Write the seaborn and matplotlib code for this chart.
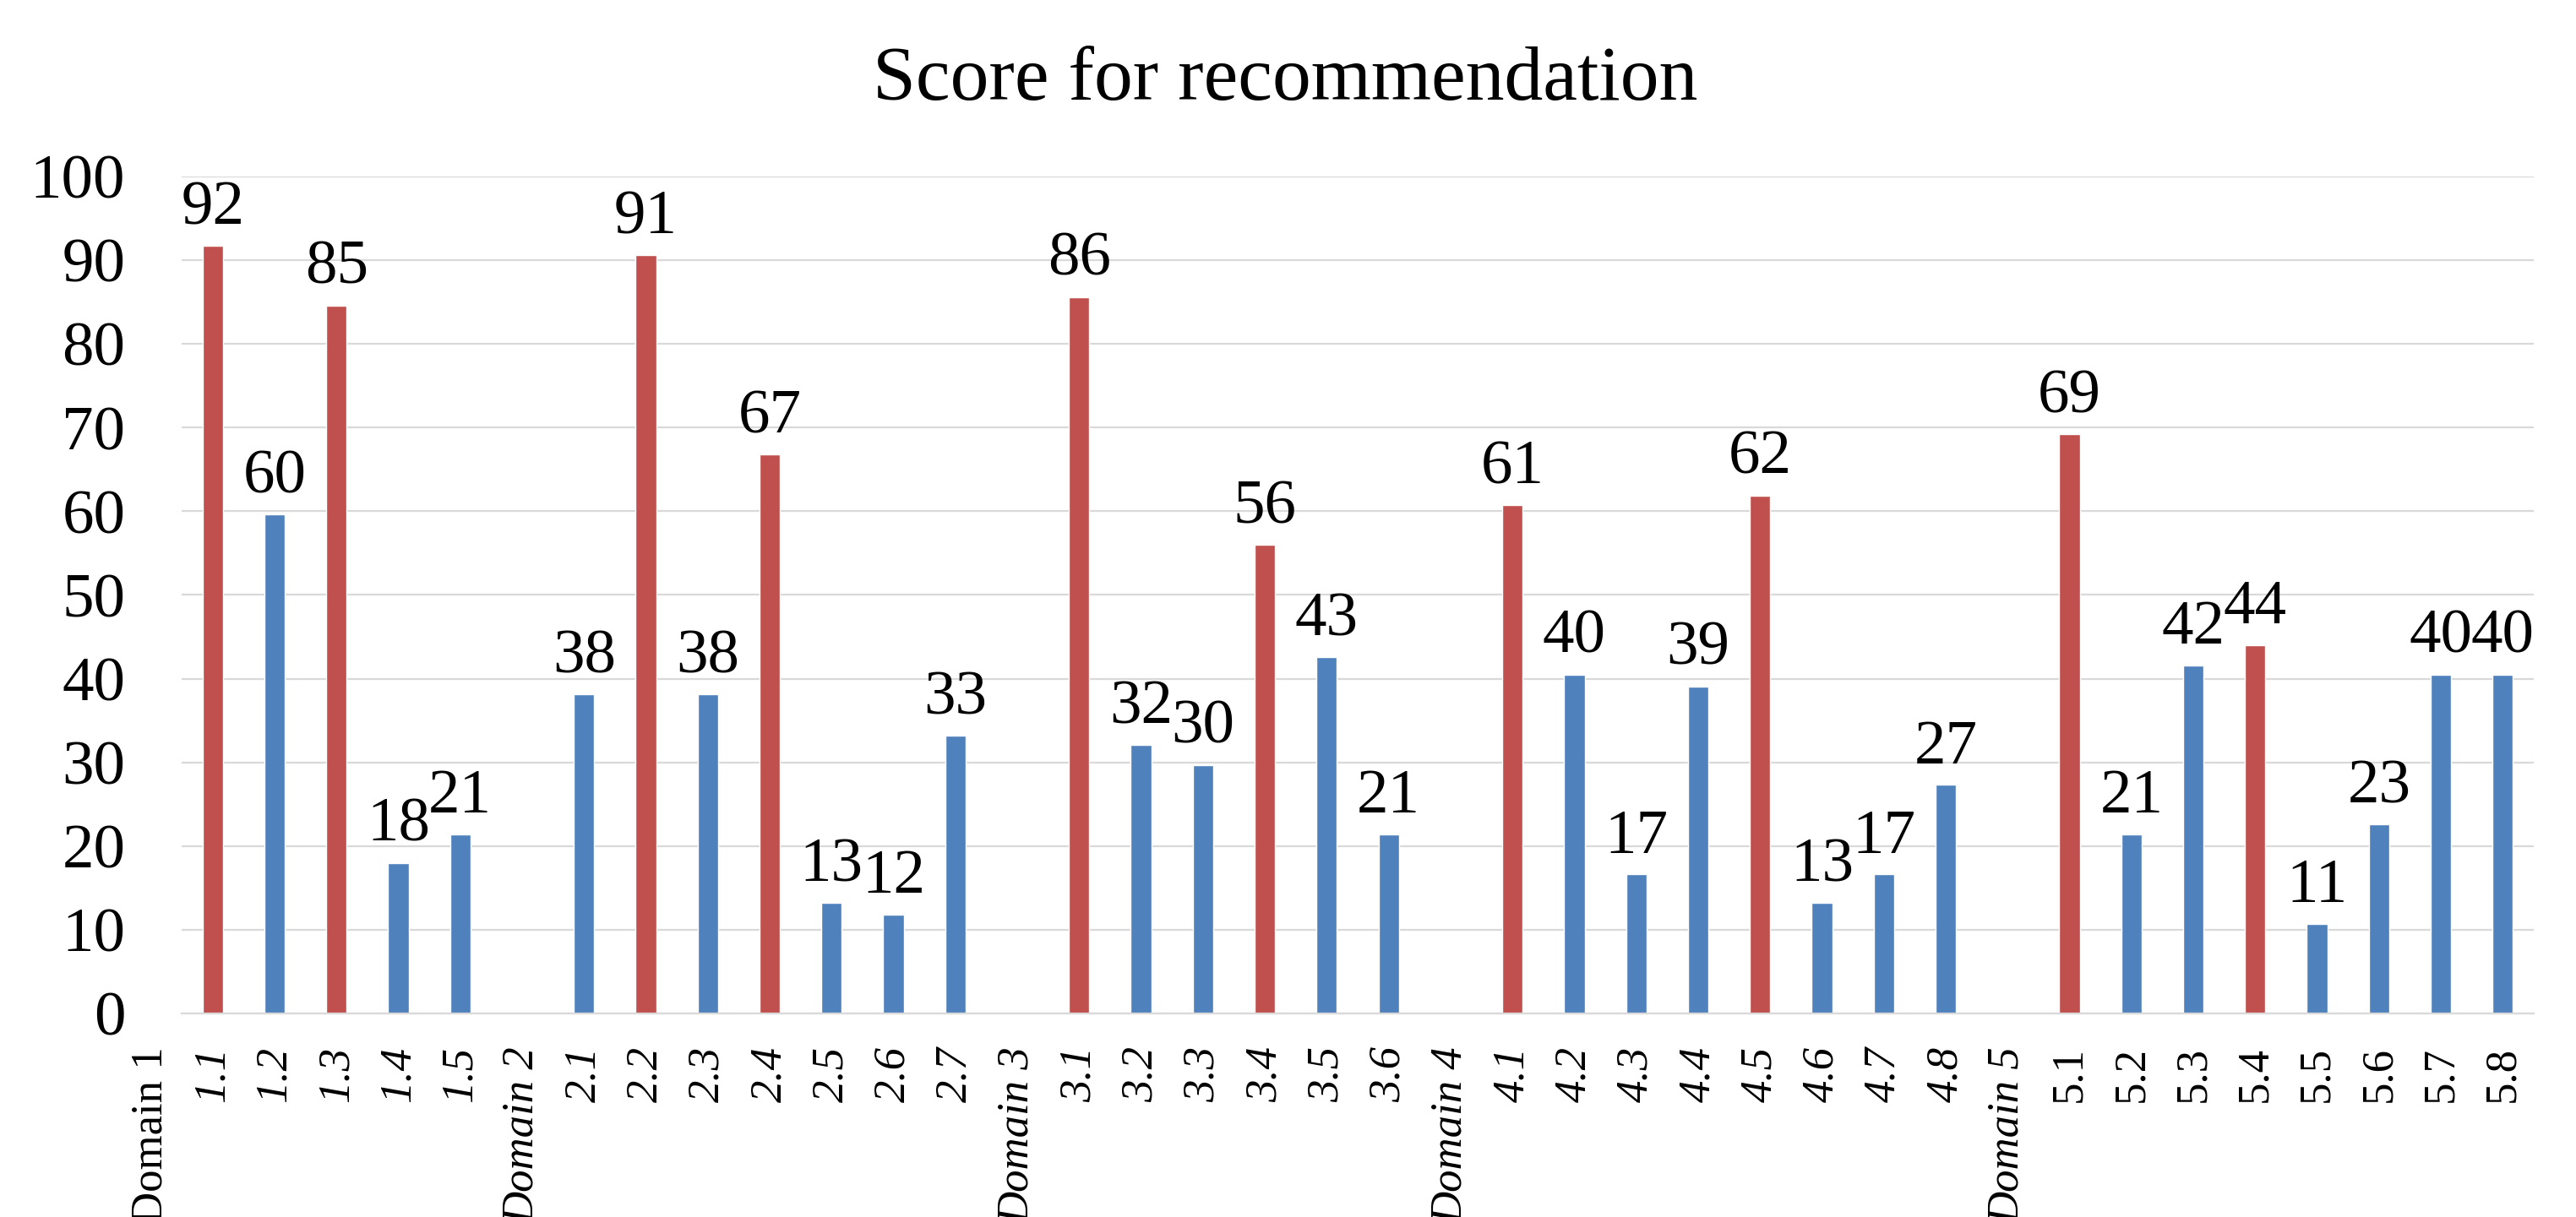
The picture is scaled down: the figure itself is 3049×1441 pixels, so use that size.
import numpy as np
import pandas as pd
import matplotlib
matplotlib.use("Agg")
import matplotlib.pyplot as plt
import seaborn as sns

# ---------------- data ----------------
categories = [
    "Domain 1", "1.1", "1.2", "1.3", "1.4", "1.5",
    "Domain 2", "2.1", "2.2", "2.3", "2.4", "2.5", "2.6", "2.7",
    "Domain 3", "3.1", "3.2", "3.3", "3.4", "3.5", "3.6",
    "Domain 4", "4.1", "4.2", "4.3", "4.4", "4.5", "4.6", "4.7", "4.8",
    "Domain 5", "5.1", "5.2", "5.3", "5.4", "5.5", "5.6", "5.7", "5.8",
]
scores = [
    np.nan, 91.7, 59.6, 84.6, 18.0, 21.4,
    np.nan, 38.1, 90.6, 38.1, 66.8, 13.2, 11.8, 33.2,
    np.nan, 85.6, 32.1, 29.7, 56.0, 42.6, 21.4,
    np.nan, 60.7, 40.5, 16.6, 39.1, 61.9, 13.2, 16.6, 27.3,
    np.nan, 69.2, 21.4, 41.6, 44.0, 10.7, 22.6, 40.5, 40.5,
]
recommended = ["1.1", "1.3", "2.2", "2.4", "3.1", "3.4", "4.1", "4.5", "5.1", "5.4"]
y_ticks = [0, 10, 20, 30, 40, 50, 60, 70, 80, 90, 100]
title = "Score for recommendation"

assert len(categories) == len(scores)

df = pd.DataFrame({"item": categories, "score": scores})
df["group"] = np.where(df["item"].isin(recommended), "Recommended", "Other")

# ---------------- style ----------------
sns.set_theme(style="white")
plt.rcParams["font.family"] = ["Liberation Serif", "DejaVu Serif"]
plt.rcParams["text.color"] = "black"
plt.rcParams["xtick.color"] = "black"
plt.rcParams["ytick.color"] = "black"

W, H = 3049, 1441
fig = plt.figure(figsize=(W / 100, H / 100), dpi=100)
ax = fig.add_axes([215 / W, 1 - 1200 / H, (2999 - 215) / W, (1200 - 209) / H])

sns.barplot(
    data=df, x="item", y="score", hue="group", order=categories,
    palette={"Recommended": "#C0504D", "Other": "#4F81BD"},
    dodge=False, width=0.33, saturation=1, errorbar=None,
    legend=False, ax=ax,
)

for c in ax.containers:
    labels = [f"{v:.0f}" if np.isfinite(v) else "" for v in c.datavalues]
    ax.bar_label(c, labels=labels, padding=7, fontsize=54, color="black")

ax.set_yticks(y_ticks)
ax.set_yticklabels([str(t) for t in y_ticks])
ax.tick_params(axis="y", labelsize=54, pad=48, length=0, labelcolor="black")

ax.set_xticks(range(len(categories)))
ax.set_xticklabels(categories, rotation=90, fontsize=38, ha="center", va="top")
ax.tick_params(axis="x", pad=28, length=0, labelcolor="black")
for lab in ax.get_xticklabels():
    t = lab.get_text()
    lab.set_style("normal" if t.startswith("5.") or t == "Domain 1" else "italic")

# limits set after the ticks so they are not expanded
ax.set_ylim(0, 100)
ax.set_xlim(0.5, len(categories) - 0.5)

# first category label sits left of the plot area (outside the x-limits)
ax.annotate(categories[0], xy=(0, 0), xycoords=("data", "axes fraction"),
            xytext=(0, -28), textcoords="offset points", rotation=90,
            ha="center", va="top", fontsize=38, annotation_clip=False,
            color="black")

ax.yaxis.grid(True, color="#D9D9D9", linewidth=1.6)
ax.xaxis.grid(False)
ax.set_axisbelow(True)
for s in ["top", "left", "right"]:
    ax.spines[s].set_visible(False)
ax.spines["bottom"].set_color("#D9D9D9")
ax.spines["bottom"].set_linewidth(1.6)
ax.set_xlabel("")
ax.set_ylabel("")

fig.text(1521 / W, 1 - 118 / H, title, ha="center", va="baseline",
         fontsize=66, color="black")

fig.savefig("out.png", dpi=100)
